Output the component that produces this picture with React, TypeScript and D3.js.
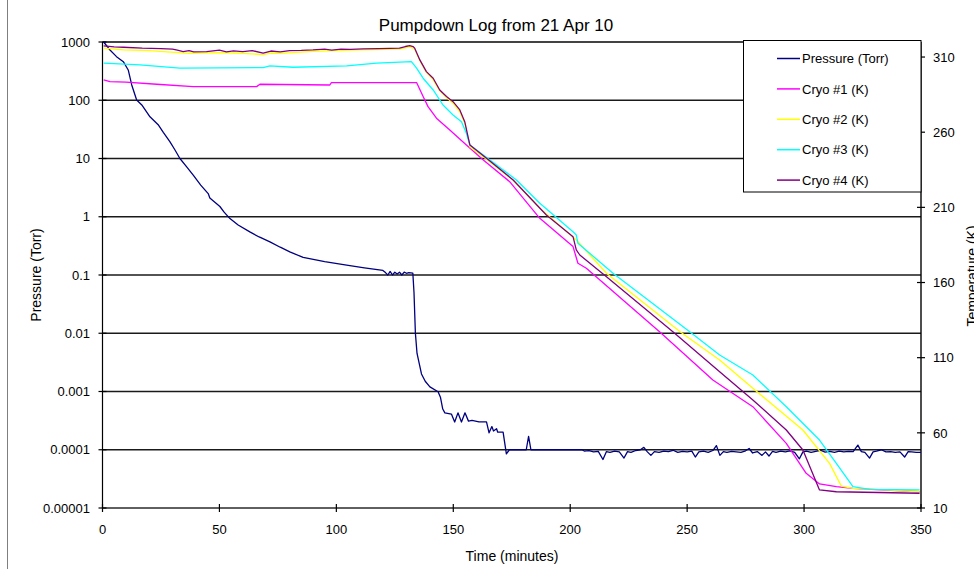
import React from 'react';
import * as d3 from 'd3';

const timeTicks = [0, 50, 100, 150, 200, 250, 300, 350];
const pressureTicks = [1000, 100, 10, 1, 0.1, 0.01, 0.001, 0.0001, 0.00001];
const pressureTickLabels = ['1000', '100', '10', '1', '0.1', '0.01', '0.001', '0.0001', '0.00001'];
const tempTicks = [10, 60, 110, 160, 210, 260, 310];

const seriesNames = ['Pressure (Torr)', 'Cryo #1 (K)', 'Cryo #2 (K)', 'Cryo #3 (K)', 'Cryo #4 (K)'];
const seriesColors = ['#000080', '#FF00FF', '#FFFF00', '#00FFFF', '#800080'];

// [minutes, Torr]
const pressureData: [number, number][] = [
  [0.5, 1000], [3.2, 729], [6, 560], [8.9, 459], [11, 331], [12.5, 183], [14.6, 101], [16.8, 83],
  [20.3, 52], [23.8, 38], [26, 28], [28.8, 19.5], [31, 14], [33.1, 10], [36, 7.2], [38.8, 5.2],
  [42, 3.5], [45.2, 2.5], [45.9, 2.1], [50.2, 1.5], [52, 1.2], [54.5, 0.93], [58, 0.72], [63, 0.55],
  [67, 0.45], [71.6, 0.37], [76, 0.3], [80.1, 0.25], [85.8, 0.2], [95, 0.17], [104.4, 0.148],
  [112, 0.133], [119.9, 0.12], [121, 0.11], [122, 0.1], [123, 0.115], [124, 0.1], [125, 0.112],
  [126, 0.104], [127, 0.112], [128, 0.1], [129, 0.112], [130, 0.107], [131, 0.11], [132.7, 0.108],
  [133.2, 0.05], [133.8, 0.01], [134.5, 0.0045], [136.4, 0.002], [138, 0.0015], [140, 0.0012],
  [143.5, 0.00099], [144.5, 0.0008], [145.5, 0.0005], [146.4, 0.00043], [149.2, 0.00041],
  [150.6, 0.0003], [152, 0.00043], [153.5, 0.0003], [155, 0.00043], [156.5, 0.00031],
  [158, 0.00032], [161, 0.0003], [164.2, 0.0003], [165.3, 0.000195], [166.5, 0.00025],
  [167.2, 0.00021], [168.5, 0.00023], [169, 0.0002], [171.3, 0.0002], [172.7, 0.000085],
  [174, 0.0001], [181.2, 0.0001], [182.2, 0.00017], [183.2, 0.0001], [195, 0.0001], [205, 0.0001],
  [206, 0.000095], [208, 0.000097], [210, 0.000092], [212, 0.000094], [214, 0.000068],
  [215.5, 0.000093], [217, 0.00009], [219, 0.000095], [221, 0.000092], [223, 0.000072],
  [224.5, 0.000093], [226, 0.00009], [228, 0.000097], [230, 0.0001], [231.5, 0.00011],
  [233, 0.000092], [234.5, 0.00008], [236, 0.000093], [238, 0.00009], [240, 0.000095],
  [242, 0.000093], [244, 0.000098], [246, 0.00009], [248, 0.000094], [250, 0.000092],
  [252, 0.000095], [253.5, 0.000075], [255, 0.000092], [257, 0.000095], [259, 0.00009],
  [261, 0.000097], [262.5, 0.000118], [264, 0.00008], [265.5, 0.000093], [267, 0.00009],
  [269, 0.000094], [271, 0.000092], [273, 0.00009], [275, 0.000096], [276.5, 0.000105],
  [278, 0.000088], [280, 0.000093], [282, 0.00008], [283.5, 0.000092], [285, 0.000078],
  [286.5, 0.000094], [288, 0.00009], [290, 0.000095], [292, 0.000092], [294, 0.000096],
  [296, 0.00009], [298, 0.00007], [299.5, 0.000092], [301, 0.000095], [303, 0.00009],
  [305, 0.000094], [307, 0.000098], [309, 0.000091], [311, 0.000094], [313, 0.00009],
  [315, 0.000095], [317, 0.000092], [319, 0.000094], [321, 0.000093], [323, 0.00012],
  [324.5, 0.000093], [326, 0.00009], [328, 0.000072], [329.5, 0.000092], [331, 0.000095],
  [333, 0.0001], [335, 0.000092], [337, 0.000093], [339, 0.00009], [341, 0.000092],
  [343, 0.000075], [344.5, 0.000093], [346, 0.000092], [348, 0.00009], [350, 0.00009],
];

// [minutes, Kelvin]
const cryo1Data: [number, number][] = [
  [0.5, 294.8], [3.2, 293.6], [10, 293.3], [23.2, 291.9], [38.8, 290.3], [65.9, 290.3],
  [67.3, 291.9], [97.2, 291.4], [97.9, 293.0], [134.3, 293.0], [137.1, 283.7], [139.2, 277.0],
  [142.8, 269.3], [148.5, 261.5], [155.6, 251.5], [162.7, 241.6], [174.1, 227.1], [187, 202.7],
  [201.2, 183.9], [203.3, 172.8], [206.9, 169.5], [238.2, 127.3], [261, 95.2], [278.1, 77.4],
  [292.4, 53.0], [300.9, 33.1], [306.6, 26.0], [313.8, 24.2], [320.9, 23.1], [349.4, 20.8],
];

const cryo2Data: [number, number][] = [
  [0.5, 315.9], [9, 314.7], [20, 314.2], [37, 312.5], [50, 312.9], [60, 312.5], [68.7, 311.6],
  [72, 312.6], [76, 312.5], [90, 313.8], [110, 314.7], [127, 315.2], [131.4, 316.7], [133.5, 315.4],
  [135.7, 307.5], [138.5, 299.8], [141.4, 295.0], [144.2, 287.5], [147.1, 283.0], [149.9, 279.3],
  [152.8, 273.6], [154.9, 266.0], [156.3, 256.5], [157.1, 250.2], [164.2, 242.0], [175.6, 228.0],
  [187, 209.4], [202.6, 188.3], [215.5, 166.2], [247, 127.3], [263.9, 108.5], [278.1, 89.6],
  [299.5, 61.9], [310.9, 39.7], [315.9, 24.6], [320.9, 23.1], [335, 22.0], [349.4, 20.8],
];

const cryo3Data: [number, number][] = [
  [0.5, 305.9], [16, 304.8], [33.1, 302.6], [68.7, 303.0], [71.6, 304.1], [81.5, 303.2],
  [104.4, 304.1], [117.2, 305.9], [132.1, 306.9], [134.3, 302.6], [137.1, 295.9], [141.4, 288.1],
  [145.6, 278.1], [149.9, 271.4], [153.5, 267.0], [155.6, 259.3], [157.1, 251.5], [162.7, 244.9],
  [177, 228.2], [187, 212.7], [201.2, 193.8], [202.6, 191.6], [203.3, 186.1], [218.3, 166.2],
  [251.1, 127.3], [263.9, 111.8], [278.1, 98.5], [292.4, 77.4], [306.6, 55.2], [313.8, 39.7],
  [320.9, 24.2], [328, 22.4], [349.4, 22.0],
];

const cryo4Data: [number, number][] = [
  [0.5, 317.4], [5, 316.8], [9, 316.5], [17, 315.9], [25, 315.6], [30, 315.2], [32, 314.6],
  [34.5, 313.6], [37, 314.3], [39, 313.4], [44.5, 313.6], [50, 314.6], [53, 313.4], [56, 314.1],
  [60, 313.6], [64, 314.3], [68.7, 312.6], [72, 314.0], [76, 313.4], [80, 314.3], [85, 314.4],
  [90, 314.7], [95, 315.3], [98, 314.6], [102, 315.2], [106, 315.1], [111.5, 315.4], [118, 315.6],
  [123, 315.7], [127, 315.9], [129.5, 317.0], [131.4, 317.6], [132.8, 317.0], [133.5, 315.9],
  [135.7, 308.1], [138.5, 300.3], [141.4, 295.9], [144.2, 288.1], [147.1, 283.7], [149.9, 280.3],
  [152.8, 274.8], [154.9, 267.0], [156.3, 257.0], [157.1, 251.5], [164.2, 242.6], [175.6, 228.2],
  [189.8, 204.9], [201.2, 190.5], [202.6, 181.7], [204.1, 178.3], [215.5, 163.9], [243.9, 127.3],
  [263.9, 100.7], [278.1, 81.9], [292.4, 61.9], [299.5, 48.6], [306.6, 22.0], [313.8, 20.8],
  [349.4, 19.8],
];

const FONT = 'Liberation Sans, Arial, Helvetica, sans-serif';

export default function App() {
  const W = 974;
  const H = 569;
  const left = 102.5;
  const right = 921;
  const top = 42;
  const bottom = 508;

  const x = d3.scaleLinear().domain([0, 350]).range([left, right]);
  const yP = d3.scaleLog().domain([0.00001, 1000]).range([bottom, top]);
  const yT = d3.scaleLinear().domain([10, 320]).range([bottom, top]);

  const lineP = d3.line<[number, number]>().x((d) => x(d[0])).y((d) => yP(d[1]));
  const lineT = d3.line<[number, number]>().x((d) => x(d[0])).y((d) => yT(d[1]));

  const cryoSeries = [cryo1Data, cryo2Data, cryo3Data, cryo4Data];
  const legendY0 = 58.5;
  const legendStep = 30.4;

  return (
    <svg width={W} height={H} style={{ position: 'absolute', left: 0, top: 0, background: '#fff' }} fontFamily={FONT}>
      <defs>
        <clipPath id="plotClip">
          <rect x={left} y={top - 1} width={right - left} height={bottom - top + 2} />
        </clipPath>
      </defs>
      <rect x={0} y={0} width={W} height={H} fill="#fff" />
      <line x1={7.5} y1={0} x2={7.5} y2={H} stroke="#7f7f7f" strokeWidth={1} />

      <text x={496} y={31} textAnchor="middle" fontSize={17} fill="#000">Pumpdown Log from 21 Apr 10</text>

      {/* plot area border */}
      <rect x={left} y={top} width={right - left} height={bottom - top} fill="#fff" stroke="#808080" strokeWidth={1} />

      {/* gridlines */}
      {pressureTicks.slice(0, -1).map((p) => (
        <line key={'g' + p} x1={left} x2={right} y1={yP(p)} y2={yP(p)} stroke="#1a1a1a" strokeWidth={1.3} />
      ))}

      {/* axes */}
      <line x1={left} x2={left} y1={top} y2={bottom} stroke="#000" strokeWidth={1.2} />
      <line x1={right} x2={right} y1={top} y2={bottom} stroke="#000" strokeWidth={1.2} />
      <line x1={left} x2={right} y1={bottom} y2={bottom} stroke="#000" strokeWidth={1.2} />

      {pressureTicks.map((p, i) => (
        <g key={'pt' + p}>
          <line x1={left - 4} x2={left + 4} y1={yP(p)} y2={yP(p)} stroke="#000" strokeWidth={1.2} />
          <text x={90} y={yP(p)} dy="0.36em" textAnchor="end" fontSize={13} fill="#000">{pressureTickLabels[i]}</text>
        </g>
      ))}
      {tempTicks.map((t) => (
        <g key={'tt' + t}>
          <line x1={right - 4} x2={right + 4} y1={yT(t)} y2={yT(t)} stroke="#000" strokeWidth={1.2} />
          <text x={933} y={yT(t)} dy="0.36em" textAnchor="start" fontSize={13} fill="#000">{t}</text>
        </g>
      ))}
      {timeTicks.map((t) => (
        <g key={'xt' + t}>
          <line x1={x(t)} x2={x(t)} y1={bottom - 4} y2={bottom + 4} stroke="#000" strokeWidth={1.2} />
          <text x={x(t)} y={534} textAnchor="middle" fontSize={13} fill="#000">{t}</text>
        </g>
      ))}

      <text transform="translate(41,275) rotate(-90)" textAnchor="middle" fontSize={14} fill="#000">Pressure (Torr)</text>
      <text x={512} y={561} textAnchor="middle" fontSize={14} fill="#000">Time (minutes)</text>
      <text transform="translate(977,276) rotate(-90)" textAnchor="middle" fontSize={14} fill="#000">Temperature (K)</text>

      {/* series */}
      <g clipPath="url(#plotClip)" fill="none" strokeLinejoin="round">
        <path d={lineP(pressureData) || ''} stroke={seriesColors[0]} strokeWidth={1.3} />
        {cryoSeries.map((s, i) => (
          <path key={'c' + i} d={lineT(s) || ''} stroke={seriesColors[i + 1]} strokeWidth={1.3} />
        ))}
      </g>

      {/* legend */}
      <rect x={743.5} y={40.5} width={177.5} height={151.5} fill="#fff" stroke="#000" strokeWidth={1} />
      {seriesNames.map((n, i) => (
        <g key={'l' + i}>
          <line x1={777} x2={800} y1={legendY0 + i * legendStep} y2={legendY0 + i * legendStep} stroke={seriesColors[i]} strokeWidth={1.5} />
          <text x={802} y={legendY0 + i * legendStep} dy="0.36em" fontSize={13} fill="#000">{n}</text>
        </g>
      ))}
    </svg>
  );
}
